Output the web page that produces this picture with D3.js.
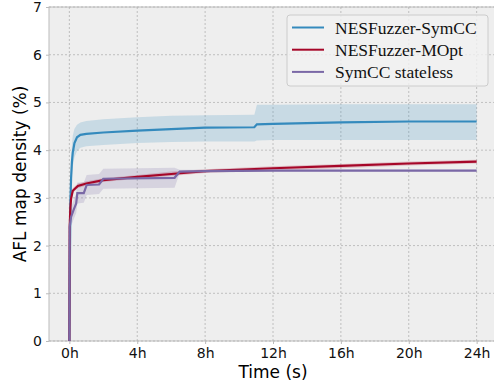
<!DOCTYPE html>
<html>
<head>
<meta charset="utf-8">
<script src="https://cdn.jsdelivr.net/npm/d3@7"></script>
<style>
  body { margin: 0; background: #ffffff; }
  svg { display: block; }
</style>
</head>
<body>
<div id="chart"></div>
<script>
//--------------------------- Data (time in hours, density in %)

var symccTime = [0, 0.03, 0.06, 0.1, 0.15, 0.2, 0.3, 0.45, 0.65, 1, 2, 4, 6, 8, 10.9, 11.05, 12, 16, 20, 24];
var symccMean = [0, 1.6, 2.9, 3.4, 3.75, 3.95, 4.15, 4.27, 4.32, 4.34, 4.37, 4.41, 4.44, 4.47, 4.48, 4.54, 4.55, 4.58, 4.6, 4.6];
var symccLow  = [0, 1.4, 2.6, 3.1, 3.45, 3.65, 3.85, 3.98, 4.05, 4.08, 4.11, 4.15, 4.17, 4.18, 4.18, 4.2, 4.21, 4.21, 4.21, 4.21];
var symccHigh = [0, 1.8, 3.2, 3.75, 4.1, 4.3, 4.45, 4.53, 4.58, 4.61, 4.65, 4.69, 4.72, 4.73, 4.74, 4.95, 4.95, 4.96, 4.96, 4.96];

var moptTime = [0, 0.02, 0.06, 0.1, 0.2, 0.5, 1, 2, 4, 6, 8, 12, 16, 20, 24];
var moptMean = [0, 2.4, 2.8, 2.98, 3.15, 3.25, 3.3, 3.37, 3.44, 3.5, 3.56, 3.62, 3.67, 3.72, 3.76];
var moptLow  = [0, 2.3, 2.72, 2.92, 3.1, 3.2, 3.26, 3.33, 3.4, 3.46, 3.52, 3.58, 3.62, 3.68, 3.72];
var moptHigh = [0, 2.5, 2.88, 3.04, 3.2, 3.3, 3.35, 3.41, 3.48, 3.55, 3.6, 3.66, 3.71, 3.76, 3.8];

var statelessTime = [0, 0.02, 0.1, 0.25, 0.4, 0.47, 0.85, 1.02, 1.75, 2.0, 6.2, 6.5, 8, 12, 24];
var statelessMean = [0, 2.4, 2.6, 2.75, 2.88, 3.1, 3.1, 3.27, 3.28, 3.4, 3.42, 3.55, 3.56, 3.57, 3.57];
var statelessLow  = [0, 2.2, 2.4, 2.55, 2.68, 2.88, 2.9, 3.06, 3.08, 3.19, 3.21, 3.52, 3.54, 3.56, 3.56];
var statelessHigh = [0, 2.6, 2.8, 2.95, 3.08, 3.32, 3.32, 3.48, 3.5, 3.61, 3.63, 3.59, 3.59, 3.59, 3.59];

var seriesNames = ["NESFuzzer-SymCC", "NESFuzzer-MOpt", "SymCC stateless"];
var seriesColors = ["#348ABD", "#A60628", "#7A68A6"];

var xTicks = [0, 4, 8, 12, 16, 20, 24];
var yTicks = [0, 1, 2, 3, 4, 5, 6, 7];

//--------------------------- SVG definition

var width = 494;
var height = 383;
var margin = { left: 49, top: 7, right: -3, bottom: 42 };

var svg = d3.select("#chart")
    .append("svg")
    .attr("width", width)
    .attr("height", height);

var x = d3.scaleLinear()
    .domain([-1.2, 25.2])
    .range([margin.left, width - margin.right]);

var y = d3.scaleLinear()
    .domain([0, 7])
    .range([height - margin.bottom, margin.top]);

//--------------------------- Background and grid

svg.append("rect")
    .attr("x", margin.left)
    .attr("y", margin.top)
    .attr("width", x.range()[1] - margin.left)
    .attr("height", y(0) - margin.top)
    .style("fill", "#eeeeee")
    .style("stroke", "#bcbcbc")
    .style("stroke-width", 1);

var grid = svg.append("g");

grid.selectAll("line.gx")
    .data(xTicks)
    .enter()
    .append("line")
    .attr("x1", function (d) { return x(d); })
    .attr("x2", function (d) { return x(d); })
    .attr("y1", y(0))
    .attr("y2", margin.top)
    .style("stroke", "#b2b2b2")
    .style("stroke-width", 0.8)
    .style("stroke-dasharray", "2,2");

grid.selectAll("line.gy")
    .data(yTicks)
    .enter()
    .append("line")
    .attr("x1", margin.left)
    .attr("x2", x.range()[1])
    .attr("y1", function (d) { return y(d); })
    .attr("y2", function (d) { return y(d); })
    .style("stroke", "#b2b2b2")
    .style("stroke-width", 0.8)
    .style("stroke-dasharray", "2,2");

//--------------------------- Axes

var xAxis = svg.append("g")
    .attr("transform", "translate(0," + y(0) + ")")
    .call(d3.axisBottom(x).tickValues(xTicks).tickSize(3).tickPadding(4)
        .tickFormat(function (d) { return d + "h"; }));

var yAxis = svg.append("g")
    .attr("transform", "translate(" + margin.left + ",0)")
    .call(d3.axisLeft(y).tickValues(yTicks).tickSize(3).tickPadding(4)
        .tickFormat(d3.format("d")));

[xAxis, yAxis].forEach(function (a) {
    a.select(".domain").remove();
    a.selectAll(".tick line").style("stroke", "#bcbcbc");
    a.selectAll("text")
        .style("font-family", "DejaVu Sans")
        .style("font-size", "14px")
        .style("fill", "#111111");
});

svg.append("text")
    .attr("x", x(12))
    .attr("y", 378)
    .attr("text-anchor", "middle")
    .style("font-family", "DejaVu Sans")
    .style("font-size", "17px")
    .text("Time (s)");

svg.append("text")
    .attr("transform", "translate(26," + y(3.5) + ")rotate(-90)")
    .attr("text-anchor", "middle")
    .style("font-family", "DejaVu Sans")
    .style("font-size", "17px")
    .text("AFL map density (%)");

//--------------------------- Bands and lines

var series = [
    { t: symccTime, m: symccMean, lo: symccLow, hi: symccHigh },
    { t: moptTime, m: moptMean, lo: moptLow, hi: moptHigh },
    { t: statelessTime, m: statelessMean, lo: statelessLow, hi: statelessHigh }
];

var area = d3.area()
    .x(function (d) { return x(d[0]); })
    .y0(function (d) { return y(d[1]); })
    .y1(function (d) { return y(d[2]); });

var line = d3.line()
    .x(function (d) { return x(d[0]); })
    .y(function (d) { return y(d[1]); });

var plot = svg.append("g");

series.forEach(function (s, k) {
    var pts = s.t.map(function (t, i) { return [t, s.lo[i], s.hi[i]]; });
    plot.append("path")
        .attr("d", area(pts))
        .style("fill", seriesColors[k])
        .style("opacity", 0.2);
});

series.forEach(function (s, k) {
    var pts = s.t.map(function (t, i) { return [t, s.m[i]]; });
    plot.append("path")
        .attr("d", line(pts))
        .style("fill", "none")
        .style("stroke", seriesColors[k])
        .style("stroke-width", 2.2);
});

//--------------------------- Legend

var legend = svg.append("g");

legend.append("rect")
    .attr("x", 287)
    .attr("y", 15)
    .attr("width", 201)
    .attr("height", 71)
    .attr("rx", 3)
    .style("fill", "#f1f1f1")
    .style("fill-opacity", 0.8)
    .style("stroke", "#cccccc");

seriesNames.forEach(function (name, i) {
    var ly = 27.5 + i * 22.2;
    legend.append("line")
        .attr("x1", 292)
        .attr("x2", 324)
        .attr("y1", ly)
        .attr("y2", ly)
        .style("stroke", seriesColors[i])
        .style("stroke-width", 2);
    legend.append("text")
        .attr("x", 335)
        .attr("y", ly + 6)
        .style("font-family", "Liberation Serif")
        .style("font-size", "17.5px")
        .style("fill", "#111111")
        .text(name);
});
</script>
</body>
</html>
